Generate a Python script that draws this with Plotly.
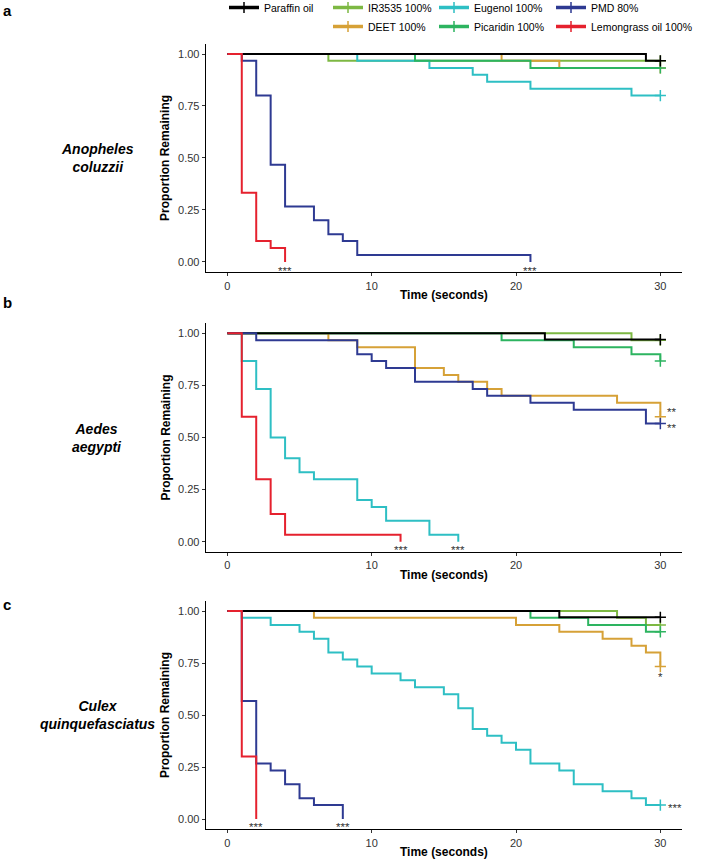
import plotly.graph_objects as go

W, H_VIEW = 709, 861
OFF = 7                      # figure is shifted up by OFF px in the page
H = H_VIEW + OFF
FONT = "Liberation Sans, Arial, sans-serif"

series_names = ["Paraffin oil", "IR3535 100%", "DEET 100%", "Eugenol 100%",
                "Picaridin 100%", "PMD 80%", "Lemongrass oil 100%"]
series_colors = ["#000000", "#7DB843", "#D6A137", "#2EBFC4",
                 "#2DB460", "#2E3A92", "#E5212E"]
species_labels = ["<i>Anopheles</i><br><i>coluzzii</i>",
                  "<i>Aedes</i><br><i>aegypti</i>",
                  "<i>Culex</i><br><i>quinquefasciatus</i>"]
panel_letters = ["a", "b", "c"]
x_ticks = [0, 10, 20, 30]
y_ticks = [0.0, 0.25, 0.5, 0.75, 1.0]
y_tick_labels = ["0.00", "0.25", "0.50", "0.75", "1.00"]

# ---- Panel a: Anopheles coluzzii (time in s, proportion remaining) ----
a_paraffin_t = [0, 29, 30]
a_paraffin_s = [1, 0.967, 0.967]
a_ir3535_t = [0, 7, 30]
a_ir3535_s = [1, 0.967, 0.967]
a_deet_t = [0, 19, 23, 30]
a_deet_s = [1, 0.967, 0.933, 0.933]
a_eugenol_t = [0, 9, 14, 17, 18, 21, 28, 30]
a_eugenol_s = [1, 0.967, 0.933, 0.9, 0.867, 0.833, 0.8, 0.8]
a_picaridin_t = [0, 13, 21, 30]
a_picaridin_s = [1, 0.967, 0.933, 0.933]
a_pmd_t = [0, 1, 2, 3, 4, 6, 7, 8, 9, 21]
a_pmd_s = [1, 0.967, 0.8, 0.467, 0.267, 0.2, 0.133, 0.1, 0.033, 0]
a_lemon_t = [0, 1, 2, 3, 4]
a_lemon_s = [1, 0.333, 0.1, 0.067, 0]

# ---- Panel b: Aedes aegypti ----
b_paraffin_t = [0, 22, 30]
b_paraffin_s = [1, 0.97, 0.97]
b_ir3535_t = [0, 28, 30]
b_ir3535_s = [1, 0.967, 0.967]
b_deet_t = [0, 7, 9, 13, 15, 16, 18, 19, 27, 30]
b_deet_s = [1, 0.967, 0.933, 0.833, 0.8, 0.767, 0.733, 0.7, 0.667, 0.6]
b_eugenol_t = [0, 1, 2, 3, 4, 5, 6, 9, 10, 11, 14, 16]
b_eugenol_s = [1, 0.867, 0.733, 0.5, 0.4, 0.333, 0.3, 0.2, 0.167, 0.1, 0.033, 0]
b_picaridin_t = [0, 19, 24, 28, 30]
b_picaridin_s = [1, 0.967, 0.933, 0.9, 0.867]
b_pmd_t = [0, 2, 9, 10, 11, 13, 17, 18, 21, 24, 29, 30]
b_pmd_s = [1, 0.967, 0.9, 0.867, 0.833, 0.767, 0.733, 0.7, 0.667, 0.633, 0.567, 0.567]
b_lemon_t = [0, 1, 2, 3, 4, 12]
b_lemon_s = [1, 0.6, 0.3, 0.133, 0.033, 0]

# ---- Panel c: Culex quinquefasciatus ----
c_paraffin_t = [0, 23, 30]
c_paraffin_s = [1, 0.97, 0.97]
c_ir3535_t = [0, 27, 29, 30]
c_ir3535_s = [1, 0.967, 0.933, 0.933]
c_deet_t = [0, 6, 20, 23, 26, 28, 29, 30]
c_deet_s = [1, 0.967, 0.933, 0.9, 0.867, 0.833, 0.8, 0.733]
c_eugenol_t = [0, 1, 3, 5, 6, 7, 8, 9, 10, 12, 13, 15, 16, 17, 18, 19, 20, 21,
               23, 24, 26, 28, 29, 30]
c_eugenol_s = [1, 0.967, 0.933, 0.9, 0.867, 0.8, 0.767, 0.733, 0.7, 0.667, 0.633,
               0.6, 0.533, 0.433, 0.4, 0.367, 0.333, 0.267, 0.233, 0.167, 0.133,
               0.1, 0.067, 0.067]
c_picaridin_t = [0, 21, 25, 29, 30]
c_picaridin_s = [1, 0.967, 0.933, 0.9, 0.9]
c_pmd_t = [0, 1, 2, 3, 4, 5, 6, 8]
c_pmd_s = [1, 0.567, 0.267, 0.233, 0.167, 0.1, 0.067, 0]
c_lemon_t = [0, 1, 2]
c_lemon_s = [1, 0.3, 0]

# significance labels: (x, y, text)
a_sig = [(4, -0.045, "***"), (21, -0.045, "***")]
b_sig = [(12, -0.04, "***"), (16, -0.04, "***"),
         (30.8, 0.622, "**"), (30.8, 0.545, "**")]
c_sig = [(2, -0.04, "***"), (8, -0.04, "***"),
         (30, 0.685, "*"), (31.0, 0.055, "***")]

panels = [
    [(a_paraffin_t, a_paraffin_s), (a_ir3535_t, a_ir3535_s), (a_deet_t, a_deet_s),
     (a_eugenol_t, a_eugenol_s), (a_picaridin_t, a_picaridin_s),
     (a_pmd_t, a_pmd_s), (a_lemon_t, a_lemon_s)],
    [(b_paraffin_t, b_paraffin_s), (b_ir3535_t, b_ir3535_s), (b_deet_t, b_deet_s),
     (b_eugenol_t, b_eugenol_s), (b_picaridin_t, b_picaridin_s),
     (b_pmd_t, b_pmd_s), (b_lemon_t, b_lemon_s)],
    [(c_paraffin_t, c_paraffin_s), (c_ir3535_t, c_ir3535_s), (c_deet_t, c_deet_s),
     (c_eugenol_t, c_eugenol_s), (c_picaridin_t, c_picaridin_s),
     (c_pmd_t, c_pmd_s), (c_lemon_t, c_lemon_s)],
]
sigs = [a_sig, b_sig, c_sig]

# drawing order (bottom -> top)
draw_order = [1, 2, 3, 4, 0, 5, 6]

# layout geometry in (viewport) pixels
x_left, x_right = 205.7, 682.0
panel_pix = [(43.6, 272.3), (322.9, 552.1), (600.6, 829.4)]  # top, bottom


def py(p):
    return 1 - (p + OFF) / H


fig = go.Figure()
annotations = []

for pi, series in enumerate(panels):
    xa = "x" if pi == 0 else f"x{pi+1}"
    ya = "y" if pi == 0 else f"y{pi+1}"
    for si in draw_order:
        t, s = series[si]
        col = series_colors[si]
        fig.add_trace(go.Scatter(
            x=t, y=s, mode="lines", xaxis=xa, yaxis=ya,
            line=dict(shape="hv", color=col, width=2),
            showlegend=False, hoverinfo="skip"))
        if s[-1] > 0:
            fig.add_trace(go.Scatter(
                x=[t[-1]], y=[s[-1]], mode="markers", xaxis=xa, yaxis=ya,
                marker=dict(symbol="cross-thin", size=8,
                            line=dict(color=col, width=1.5), color=col),
                showlegend=False, hoverinfo="skip"))
    for (sx, sy, txt) in sigs[pi]:
        annotations.append(dict(x=sx, y=sy, xref=xa, yref=ya, text=txt,
                                showarrow=False, font=dict(size=11.5, color="#333333",
                                                           family=FONT)))

# legend-only entries
legend_of = ["legend", "legend2", "legend2", "legend3", "legend3", "legend4", "legend4"]
for si, name in enumerate(series_names):
    col = series_colors[si]
    fig.add_trace(go.Scatter(
        x=[None], y=[None], mode="lines+markers", name=name,
        line=dict(color=col, width=3.5),
        marker=dict(symbol="cross-thin", size=8, line=dict(color=col, width=1.5), color=col),
        legend=legend_of[si], xaxis="x", yaxis="y"))

axis_common = dict(showgrid=False, zeroline=False, showline=True, linecolor="black",
                   linewidth=1, ticks="outside", ticklen=3, tickwidth=1,
                   tickcolor="#333333", tickfont=dict(family=FONT, size=11, color="#333333"))

layout = dict(
    width=W, height=H, margin=dict(l=0, r=0, t=0, b=0),
    paper_bgcolor="white", plot_bgcolor="white",
    font=dict(family=FONT, color="black"),
)

for pi in range(3):
    top, bot = panel_pix[pi]
    xk = "xaxis" if pi == 0 else f"xaxis{pi+1}"
    yk = "yaxis" if pi == 0 else f"yaxis{pi+1}"
    ya = "y" if pi == 0 else f"y{pi+1}"
    xa = "x" if pi == 0 else f"x{pi+1}"
    layout[xk] = dict(axis_common, domain=[x_left / W, x_right / W], range=[-1.5, 31.5],
                      tickvals=x_ticks, anchor=ya)
    layout[yk] = dict(axis_common, domain=[py(bot), py(top)], range=[-0.05, 1.05],
                      tickvals=y_ticks, ticktext=y_tick_labels, anchor=xa)
    # x title
    annotations.append(dict(x=(x_left + x_right) / 2 / W, y=py(bot + 23), xref="paper",
                            yref="paper", text="<b>Time (seconds)</b>", showarrow=False,
                            xanchor="center", yanchor="middle",
                            font=dict(size=12, family=FONT, color="black")))
    # y title
    annotations.append(dict(x=165 / W, y=py((top + bot) / 2), xref="paper", yref="paper",
                            text="<b>Proportion Remaining</b>", showarrow=False,
                            textangle=-90, xanchor="center", yanchor="middle",
                            font=dict(size=12, family=FONT, color="black")))
    # species
    annotations.append(dict(x=97 / W, y=py((top + bot) / 2), xref="paper", yref="paper",
                            text="<b>" + species_labels[pi] + "</b>", showarrow=False,
                            xanchor="center", yanchor="middle",
                            font=dict(size=14, family=FONT, color="black")))
    # panel letter
    letter_y = [10, 302, 604][pi]
    annotations.append(dict(x=1 / W, y=py(letter_y), xref="paper", yref="paper",
                            text="<b>" + panel_letters[pi] + "</b>", showarrow=False,
                            xanchor="left", yanchor="middle",
                            font=dict(size=15, family=FONT, color="black")))

layout["annotations"] = annotations

leg_common = dict(orientation="v", y=1.0, yanchor="top", xanchor="left",
                  bgcolor="rgba(0,0,0,0)", font=dict(family=FONT, size=10.5, color="black"),
                  tracegroupgap=0, itemwidth=30, itemclick=False, itemdoubleclick=False)
layout["legend"] = dict(leg_common, x=(263 - 39) / W)
layout["legend2"] = dict(leg_common, x=(367 - 39) / W)
layout["legend3"] = dict(leg_common, x=(473 - 39) / W)
layout["legend4"] = dict(leg_common, x=(590 - 39) / W)

fig.update_layout(**layout)
fig.write_html(
    "out.html",
    config={"displayModeBar": False},
    post_script=("document.body.style.margin='0';document.body.style.padding='0';"
                 "document.body.style.overflow='hidden';"
                 "document.getElementById('{plot_id}').style.marginTop='-%dpx';" % OFF),
)
